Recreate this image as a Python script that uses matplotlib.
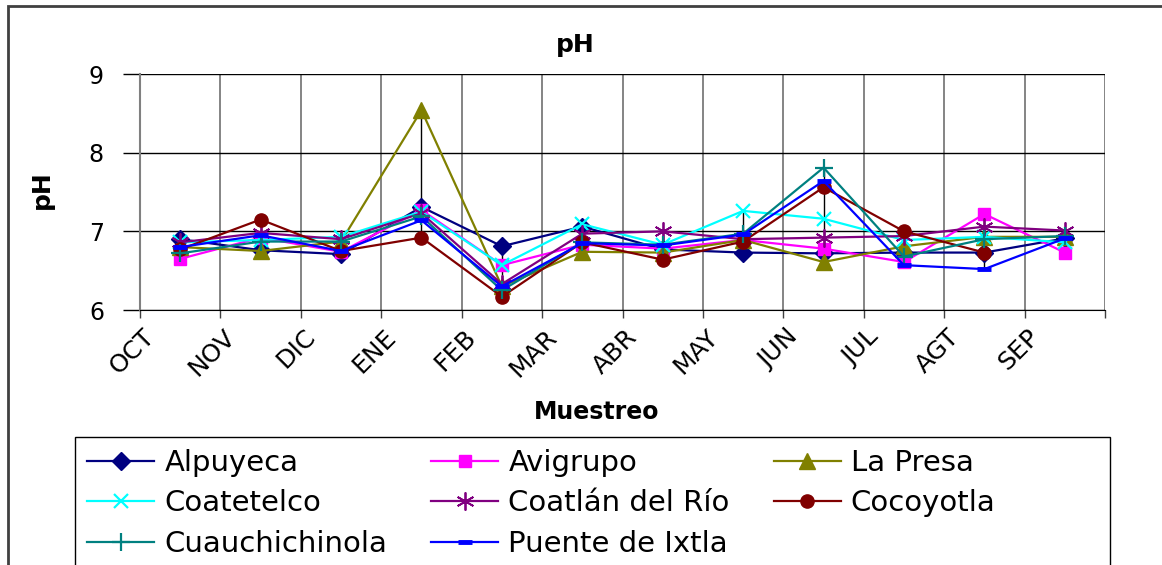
import matplotlib.pyplot as plt
import numpy as np
from matplotlib.patches import Rectangle
from matplotlib.transforms import ScaledTranslation

months = ["OCT", "NOV", "DIC", "ENE", "FEB", "MAR", "ABR", "MAY", "JUN", "JUL", "AGT", "SEP"]

alpuyeca = [6.90, 6.76, 6.71, 7.31, 6.81, 7.06, 6.77, 6.73, 6.72, 6.73, 6.73, 6.91]
avigrupo = [6.65, 6.92, 6.74, 7.27, 6.57, 6.83, 6.78, 6.89, 6.78, 6.61, 7.22, 6.73]
la_presa = [6.80, 6.75, 6.87, 8.54, 6.30, 6.74, 6.73, 6.89, 6.61, 6.81, 6.93, 6.93]
coatetelco = [6.86, 6.89, 6.93, 7.25, 6.57, 7.09, 6.83, 7.26, 7.16, 6.89, 6.93, 6.86]
coatlan = [6.86, 6.98, 6.90, 7.23, 6.33, 6.97, 7.00, 6.90, 6.92, 6.94, 7.06, 7.01]
cocoyotla = [6.77, 7.15, 6.75, 6.92, 6.17, 6.86, 6.64, 6.87, 7.56, 7.00, 6.73, np.nan]
cuauchichinola = [6.72, 6.87, 6.87, 7.19, 6.25, 6.86, 6.83, 6.97, 7.81, 6.68, 6.90, 6.94]
puente = [6.80, 6.95, 6.75, 7.14, 6.30, 6.85, 6.82, 6.96, 7.64, 6.57, 6.52, 6.91]

series = [
    ("Alpuyeca", alpuyeca, "#000080", "D", 9, 1),
    ("Avigrupo", avigrupo, "#FF00FF", "s", 9, 1),
    ("La Presa", la_presa, "#808000", "^", 11, 1),
    ("Coatetelco", coatetelco, "#00FFFF", "x", 10, 1.6),
    ("Coatlán del Río", coatlan, "#800080", (6, 2, 0), 13, 1.3),
    ("Cocoyotla", cocoyotla, "#800000", "o", 9.5, 1),
    ("Cuauchichinola", cuauchichinola, "#008080", "+", 13, 1.6),
    ("Puente de Ixtla", puente, "#0000FF", "_", 10, 3.5),
]

plt.rcParams['font.family'] = ['DejaVu Sans']

W, H = 1162, 565
fig = plt.figure(figsize=(W / 100, H / 100), dpi=100)
# marco del area del grafico y caja de la leyenda (cortados por el borde)
fig.patches.append(Rectangle((8 / W, -0.1), 1.2, 1 - 6 / H + 0.1, transform=fig.transFigure,
                             fill=False, edgecolor="#404040", linewidth=2))
fig.patches.append(Rectangle((75 / W, -0.1), 1035 / W, 1 - 437 / H + 0.1,
                             transform=fig.transFigure, fill=False, edgecolor="black",
                             linewidth=1))

ax = fig.add_axes([140 / W, 1 - 310 / H, 965 / W, 236 / H])
x = np.arange(len(months))

# lineas max-min
data = np.array([s[1] for s in series], dtype=float)
ax.vlines(x, np.nanmin(data, axis=0), np.nanmax(data, axis=0), color="black", linewidth=1, zorder=2)

handles = []
for name, vals, color, marker, ms, mew in series:
    h, = ax.plot(x, vals, color=color, marker=marker, markersize=ms, markeredgewidth=mew,
                 markeredgecolor=color, linewidth=1.6, label=name, zorder=3)
    handles.append(h)

ax.set_xlim(-0.5, 11.5)
ax.set_ylim(6, 9)
ax.set_yticks([6, 7, 8, 9])
ax.set_xticks(np.arange(-0.5, 12, 1))
ax.set_xticklabels([])
ax.tick_params(axis='y', labelsize=17, length=12, width=1, direction='out', pad=14)
ax.tick_params(axis='x', length=6, width=1, direction='out', color="#404040")
ax.grid(axis='y', color="black", linewidth=1)
ax.grid(axis='x', color="#707070", linewidth=1.2)
ax.set_axisbelow(True)
for side in ["top", "right"]:
    ax.spines[side].set_visible(False)
ax.spines["left"].set_color("#808080")
ax.spines["left"].set_linewidth(1.5)
ax.spines["bottom"].set_color("black")

# etiquetas de meses giradas
for i, m in enumerate(months):
    off = ScaledTranslation(11 / 100, -23 / 100, fig.dpi_scale_trans)
    ax.text(i - 0.5, 0, m, transform=ax.get_xaxis_transform() + off, rotation=45,
            rotation_mode='anchor', ha='right', va='center', fontsize=18)

fig.text(575 / W, 1 - 45 / H, "pH", ha='center', va='center', fontsize=18, fontweight='bold')
fig.text(42 / W, 1 - 190 / H, "pH", ha='center', va='center', rotation=90, fontsize=18,
         fontweight='bold')
fig.text(597 / W, 1 - 412 / H, "Muestreo", ha='center', va='center', fontsize=17,
         fontweight='bold')

order = [0, 3, 6, 1, 4, 7, 2, 5]
leg = fig.legend([handles[i] for i in order], [series[i][0] for i in order], ncol=3,
                 loc='upper left', bbox_to_anchor=(77 / W, 1 - 439 / H),
                 fontsize=21, frameon=False,
                 handlelength=2.3, handletextpad=0.35, labelspacing=0.42, borderaxespad=0,
                 borderpad=0.35, columnspacing=1.5)

fig.savefig("out.png", dpi=100)
